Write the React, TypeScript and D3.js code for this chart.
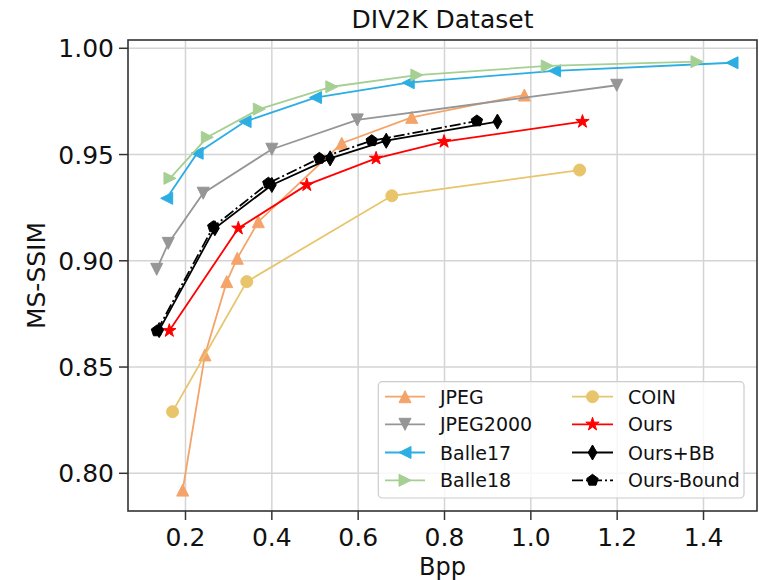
import React from "react";
import * as d3 from "d3";

// ---- Data ----
const jpegBpp = [0.1935, 0.245, 0.2955, 0.32, 0.3687, 0.562, 0.724, 0.985];
const jpegSsim = [0.7921, 0.8557, 0.8902, 0.9012, 0.9184, 0.9553, 0.9675, 0.978];

const j2kBpp = [0.1333, 0.16, 0.241, 0.4, 0.598, 1.199];
const j2kSsim = [0.896, 0.9082, 0.9318, 0.9525, 0.9663, 0.9826];

const balle17Bpp = [0.1564, 0.227, 0.338, 0.501, 0.716, 1.055, 1.466];
const balle17Ssim = [0.9294, 0.9506, 0.9655, 0.9768, 0.9838, 0.9894, 0.9932];

const balle18Bpp = [0.164, 0.2505, 0.371, 0.539, 0.736, 1.038, 1.385];
const balle18Ssim = [0.9388, 0.9581, 0.9714, 0.9819, 0.9874, 0.9917, 0.9937];

const coinBpp = [0.17, 0.342, 0.678, 1.113];
const coinSsim = [0.829, 0.8902, 0.9306, 0.9427];

const oursBpp = [0.1625, 0.3224, 0.481, 0.6415, 0.799, 1.1196];
const oursSsim = [0.8671, 0.9153, 0.9357, 0.9482, 0.9561, 0.9655];

const oursBBBpp = [0.139, 0.268, 0.4, 0.535, 0.665, 0.9226];
const oursBBSsim = [0.8674, 0.9153, 0.9357, 0.9482, 0.9565, 0.9655];

const boundBpp = [0.134, 0.2644, 0.392, 0.51, 0.6315, 0.875];
const boundSsim = [0.867, 0.916, 0.9365, 0.9482, 0.9565, 0.9658];

const xTicks = [0.2, 0.4, 0.6, 0.8, 1.0, 1.2, 1.4];
const yTicks = [0.8, 0.85, 0.9, 0.95, 1.0];

const seriesNames = ["JPEG", "JPEG2000", "Balle17", "Balle18", "COIN", "Ours", "Ours+BB", "Ours-Bound"];

// ---- Layout ----
const W = 759;
const H = 580;
const L = 128, R = 757, T = 40, B = 511;
const FONT = "DejaVu Sans, sans-serif";

const x = d3.scaleLinear().domain([0.0668, 1.5239]).range([L, R]);
const y = d3.scaleLinear().domain([0.78226, 1.0039]).range([B, T]);

type Marker = "up" | "down" | "left" | "right" | "circle" | "star" | "thind" | "pent";

function markerPath(m: Marker, s: number): string {
  const h = s / 2;
  switch (m) {
    case "up":
      return `M0,${-h}L${h},${h}L${-h},${h}Z`;
    case "down":
      return `M0,${h}L${-h},${-h}L${h},${-h}Z`;
    case "left":
      return `M${-h},0L${h},${-h}L${h},${h}Z`;
    case "right":
      return `M${h},0L${-h},${-h}L${-h},${h}Z`;
    case "circle":
      return `M${h},0A${h},${h} 0 1,1 ${-h},0A${h},${h} 0 1,1 ${h},0Z`;
    case "star": {
      const pts: string[] = [];
      for (let i = 0; i < 10; i++) {
        const r = i % 2 === 0 ? h : h * 0.381966;
        const a = -Math.PI / 2 + (i * Math.PI) / 5;
        pts.push(`${(r * Math.cos(a)).toFixed(2)},${(r * Math.sin(a)).toFixed(2)}`);
      }
      return "M" + pts.join("L") + "Z";
    }
    case "thind": {
      const hh = s * 0.58, ww = s * 0.34;
      return `M0,${-hh}L${ww},0L0,${hh}L${-ww},0Z`;
    }
    case "pent": {
      const pts: string[] = [];
      for (let i = 0; i < 5; i++) {
        const a = -Math.PI / 2 + (i * 2 * Math.PI) / 5;
        pts.push(`${(h * Math.cos(a)).toFixed(2)},${(h * Math.sin(a)).toFixed(2)}`);
      }
      return "M" + pts.join("L") + "Z";
    }
  }
  return "";
}

interface Series {
  name: string;
  xs: number[];
  ys: number[];
  color: string;
  marker: Marker;
  size: number;
  dash?: string;
}

const series: Series[] = [
  { name: seriesNames[0], xs: jpegBpp, ys: jpegSsim, color: "#f4a46a", marker: "up", size: 12 },
  { name: seriesNames[1], xs: j2kBpp, ys: j2kSsim, color: "#969696", marker: "down", size: 12 },
  { name: seriesNames[2], xs: balle17Bpp, ys: balle17Ssim, color: "#2caee3", marker: "left", size: 12 },
  { name: seriesNames[3], xs: balle18Bpp, ys: balle18Ssim, color: "#a6cf93", marker: "right", size: 12 },
  { name: seriesNames[4], xs: coinBpp, ys: coinSsim, color: "#e8c56b", marker: "circle", size: 12 },
  { name: seriesNames[5], xs: oursBpp, ys: oursSsim, color: "#ff0000", marker: "star", size: 14 },
  { name: seriesNames[6], xs: oursBBBpp, ys: oursBBSsim, color: "#000000", marker: "thind", size: 13 },
  { name: seriesNames[7], xs: boundBpp, ys: boundSsim, color: "#000000", marker: "pent", size: 12, dash: "11,3,2,3" },
];

const line = d3
  .line<[number, number]>()
  .x((d) => x(d[0]))
  .y((d) => y(d[1]));

export default function App() {
  const legendRows = [396.7, 424.3, 452.5, 480.3];
  const legendCols = [
    { x1: 385, x2: 425, tx: 440 },
    { x1: 572, x2: 613, tx: 628 },
  ];
  return (
    <svg width={W} height={H} style={{ position: "absolute", left: 0, top: 0, background: "#fff" }} fontFamily={FONT}>
      <rect x={0} y={0} width={W} height={H} fill="#fff" />
      {/* grid */}
      <g stroke="#d4d4d4" strokeWidth={1.5}>
        {xTicks.map((t) => (
          <line key={"gx" + t} x1={x(t)} x2={x(t)} y1={T} y2={B} />
        ))}
        {yTicks.map((t) => (
          <line key={"gy" + t} x1={L} x2={R} y1={y(t)} y2={y(t)} />
        ))}
      </g>
      {/* series */}
      {series.map((s) => {
        const pts = s.xs.map((v, i) => [v, s.ys[i]] as [number, number]);
        return (
          <g key={s.name}>
            <path d={line(pts) || ""} fill="none" stroke={s.color} strokeWidth={1.8} strokeDasharray={s.dash} />
            {pts.map((p, i) => (
              <path
                key={i}
                d={markerPath(s.marker, s.size)}
                transform={`translate(${x(p[0])},${y(p[1])})`}
                fill={s.color}
                stroke={s.color}
                strokeWidth={1}
              />
            ))}
          </g>
        );
      })}
      {/* frame */}
      <rect x={L} y={T} width={R - L} height={B - T} fill="none" stroke="#333" strokeWidth={1.6} />
      {/* ticks */}
      <g stroke="#333" strokeWidth={1.5}>
        {xTicks.map((t) => (
          <line key={"tx" + t} x1={x(t)} x2={x(t)} y1={B} y2={B + 9} />
        ))}
        {yTicks.map((t) => (
          <line key={"ty" + t} x1={L - 9} x2={L} y1={y(t)} y2={y(t)} />
        ))}
      </g>
      <g fontSize={25} fill="#111">
        {xTicks.map((t) => (
          <text key={"lx" + t} x={x(t)} y={545.5} textAnchor="middle">
            {d3.format(".1f")(t)}
          </text>
        ))}
        {yTicks.map((t) => (
          <text key={"ly" + t} x={114} y={y(t) + 9} textAnchor="end">
            {d3.format(".2f")(t)}
          </text>
        ))}
        <text x={(L + R) / 2} y={574.5} fontSize={24} textAnchor="middle">Bpp</text>
        <text transform={`translate(45,${(T + B) / 2}) rotate(-90)`} textAnchor="middle">MS-SSIM</text>
        <text x={(L + R) / 2} y={28} textAnchor="middle">DIV2K Dataset</text>
      </g>
      {/* legend */}
      <rect x={378.3} y={381.7} width={365.7} height={116.3} rx={4} fill="#fff" fillOpacity={0.8} stroke="#cccccc" strokeWidth={1.2} />
      {series.map((s, i) => {
        const col = legendCols[Math.floor(i / 4)];
        const ry = legendRows[i % 4];
        const mx = (col.x1 + col.x2) / 2;
        return (
          <g key={"leg" + s.name}>
            <line x1={col.x1} x2={col.x2} y1={ry} y2={ry} stroke={s.color} strokeWidth={1.8} strokeDasharray={s.dash} />
            <path d={markerPath(s.marker, s.size)} transform={`translate(${mx},${ry})`} fill={s.color} stroke={s.color} strokeWidth={1} />
            <text x={col.tx} y={ry + 7} fontSize={19} fill="#111">
              {s.name}
            </text>
          </g>
        );
      })}
    </svg>
  );
}
